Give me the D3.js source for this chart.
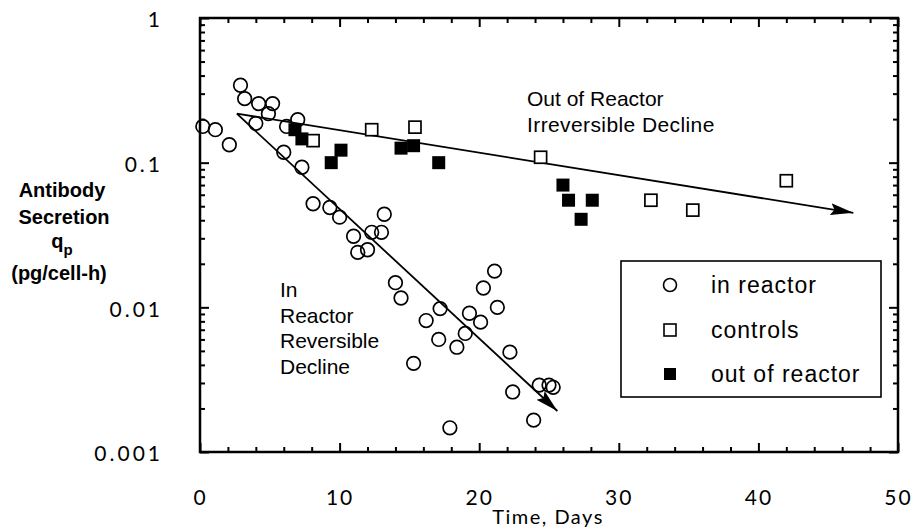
<!DOCTYPE html>
<html>
<head>
<meta charset="utf-8">
<script src="https://cdn.jsdelivr.net/npm/d3@7/dist/d3.min.js"></script>
<style>
  html, body { margin: 0; padding: 0; background: #fff; }
  svg { display: block; }
</style>
</head>
<body>
<svg id="chart" width="919" height="529"></svg>
<script>
// ---------------- data ----------------
const inReactorDay = [0.2, 1.1, 2.1, 2.9, 3.2, 4.2, 5.2, 4.9, 4.0, 6.2, 7.0, 6.0, 7.3, 8.1, 9.3, 10.0, 13.2, 11.0, 12.3, 13.0, 11.3, 12.0, 14.0, 14.4, 21.1, 20.3, 21.3, 17.2, 19.3, 20.1, 16.2, 19.0, 17.1, 18.4, 15.3, 22.2, 22.4, 24.3, 25.0, 25.3, 23.9, 17.9];
const inReactorQp  = [0.178, 0.169, 0.133, 0.343, 0.277, 0.256, 0.256, 0.218, 0.187, 0.178, 0.198, 0.118, 0.093, 0.052, 0.049, 0.042, 0.044, 0.031, 0.033, 0.033, 0.024, 0.025, 0.0148, 0.0116, 0.0178, 0.0136, 0.0100, 0.0098, 0.0091, 0.0079, 0.0081, 0.0066, 0.0060, 0.0053, 0.0041, 0.0049, 0.0026, 0.0029, 0.0029, 0.0028, 0.00166, 0.00147];

const controlsDay = [8.1, 12.3, 15.4, 24.4, 32.3, 35.3, 42.0];
const controlsQp  = [0.142, 0.169, 0.176, 0.109, 0.055, 0.047, 0.075];

const outReactorDay = [6.8, 7.3, 9.4, 10.1, 14.4, 15.3, 17.1, 26.0, 26.4, 28.1, 27.3];
const outReactorQp  = [0.169, 0.146, 0.100, 0.122, 0.126, 0.131, 0.100, 0.070, 0.055, 0.055, 0.0406];

// trend arrows [day, qp]
const irreversibleLine = [[2.64, 0.218], [46.8, 0.045]];
const reversibleLine   = [[2.64, 0.218], [25.6, 0.00192]];

const xMajorTicks = [0, 10, 20, 30, 40, 50];
const xMinorTicks = [2, 4, 6, 8, 12, 14, 16, 18, 22, 24, 26, 28, 32, 34, 36, 38, 42, 44, 46, 48];
const yMajorTicks = [1, 0.1, 0.01, 0.001];
const yTickLabels = ["1", "0.1", "0.01", "0.001"];
const yMinorTicks = [];
[0.001, 0.01, 0.1].forEach(b => { for (let m = 2; m <= 9; m++) yMinorTicks.push(+(b * m).toPrecision(3)); });

const legendLabels = ["in reactor", "controls", "out of reactor"];

// ---------------- layout ----------------
const svg = d3.select("#chart");
const L = 200, R = 898, T = 18, B = 452;
const x = d3.scaleLinear().domain([0, 50]).range([L, R]);
const y = d3.scaleLog().domain([0.001, 1]).range([B, T]);

const tickFont = "Lato, 'DejaVu Sans', sans-serif";

// bottom axis with labels
const gB = svg.append("g").attr("transform", `translate(0,${B})`)
  .call(d3.axisBottom(x).tickValues(xMajorTicks).tickSize(-9).tickPadding(38).tickFormat(d3.format("d")));
gB.selectAll("text").attr("font-size", 21).attr("fill", "#000").attr("letter-spacing", 2)
  .style("font-family", tickFont).style("font-weight", 400);
svg.append("g").attr("transform", `translate(0,${B})`)
  .call(d3.axisBottom(x).tickValues(xMinorTicks).tickSize(-5).tickFormat(""));

// top axis ticks
svg.append("g").attr("transform", `translate(0,${T})`)
  .call(d3.axisTop(x).tickValues(xMajorTicks).tickSize(-9).tickFormat(""));
svg.append("g").attr("transform", `translate(0,${T})`)
  .call(d3.axisTop(x).tickValues(xMinorTicks).tickSize(-5).tickFormat(""));

// left axis with labels
const gL = svg.append("g").attr("transform", `translate(${L},0)`)
  .call(d3.axisLeft(y).tickValues(yMajorTicks).tickSize(-9).tickPadding(37)
    .tickFormat((d, i) => yTickLabels[i]));
gL.selectAll("text").attr("font-size", 21).attr("fill", "#000").attr("letter-spacing", 3).attr("dy", "0.42em")
  .style("font-family", tickFont).style("font-weight", 400);
svg.append("g").attr("transform", `translate(${L},0)`)
  .call(d3.axisLeft(y).tickValues(yMinorTicks).tickSize(-5).tickFormat(""));

// right axis ticks
svg.append("g").attr("transform", `translate(${R},0)`)
  .call(d3.axisRight(y).tickValues(yMajorTicks).tickSize(-9).tickFormat(""));
svg.append("g").attr("transform", `translate(${R},0)`)
  .call(d3.axisRight(y).tickValues(yMinorTicks).tickSize(-5).tickFormat(""));

svg.selectAll(".domain").remove();
svg.selectAll(".tick line").attr("stroke", "#000").attr("stroke-width", 2);

// frame
svg.append("rect").attr("x", L).attr("y", T).attr("width", R - L).attr("height", B - T)
  .attr("fill", "none").attr("stroke", "#000").attr("stroke-width", 2.5);

// axis titles
svg.append("text").attr("x", 548).attr("y", 524).attr("text-anchor", "middle")
  .attr("font-size", 20).attr("letter-spacing", 1.5).style("font-family", tickFont).style("font-weight", 400)
  .attr("fill", "#000").text("Time, Days");

const yt = svg.append("g").attr("font-family", "'Liberation Sans', Arial, sans-serif")
  .attr("font-weight", "bold").attr("font-size", 20).attr("text-anchor", "middle").attr("fill", "#000");
yt.append("text").attr("x", 62).attr("y", 197).text("Antibody");
yt.append("text").attr("x", 64).attr("y", 224).text("Secretion");
const qp = yt.append("text").attr("x", 62).attr("y", 248);
qp.append("tspan").text("q");
qp.append("tspan").attr("font-size", 15).attr("dy", 7).text("p");
yt.append("text").attr("x", 59).attr("y", 280).text("(pg/cell-h)");

// arrow marker
const defs = svg.append("defs");
defs.append("marker").attr("id", "arrow").attr("markerUnits", "userSpaceOnUse")
  .attr("viewBox", "0 -7 24 14").attr("refX", 23).attr("refY", 0)
  .attr("markerWidth", 24).attr("markerHeight", 14).attr("orient", "auto")
  .append("path").attr("d", "M0,-6 L23,0 L0,6 L4,0 Z").attr("fill", "#000");

const line = d3.line().x(d => x(d[0])).y(d => y(d[1]));
[irreversibleLine, reversibleLine].forEach(ln => {
  svg.append("path").attr("d", line(ln)).attr("fill", "none").attr("stroke", "#000")
    .attr("stroke-width", 1.8).attr("marker-end", "url(#arrow)");
});

// points
const inR = d3.zip(inReactorDay, inReactorQp);
svg.append("g").selectAll("circle").data(inR).join("circle")
  .attr("cx", d => x(d[0])).attr("cy", d => y(d[1])).attr("r", 6.8)
  .attr("fill", "none").attr("stroke", "#000").attr("stroke-width", 1.7);

const ctl = d3.zip(controlsDay, controlsQp);
svg.append("g").selectAll("rect").data(ctl).join("rect")
  .attr("x", d => x(d[0]) - 6).attr("y", d => y(d[1]) - 6).attr("width", 12).attr("height", 12)
  .attr("fill", "#fff").attr("stroke", "#000").attr("stroke-width", 1.7);

const outR = d3.zip(outReactorDay, outReactorQp);
svg.append("g").selectAll("rect").data(outR).join("rect")
  .attr("x", d => x(d[0]) - 6.5).attr("y", d => y(d[1]) - 6.5).attr("width", 13).attr("height", 13)
  .attr("fill", "#000");

// annotations
const ann = svg.append("g").attr("font-family", "'Liberation Sans', Arial, sans-serif")
  .attr("font-size", 21).attr("fill", "#000");
ann.append("text").attr("x", 527).attr("y", 106).text("Out of Reactor");
ann.append("text").attr("x", 527).attr("y", 132).attr("letter-spacing", 0.4).text("Irreversible Decline");
["In", "Reactor", "Reversible", "Decline"].forEach((t, i) => {
  ann.append("text").attr("x", 280).attr("y", 297 + i * 25.5).text(t);
});

// legend
const lg = svg.append("g");
lg.append("rect").attr("x", 621).attr("y", 261).attr("width", 260).attr("height", 136)
  .attr("fill", "#fff").attr("stroke", "#000").attr("stroke-width", 1.6);
const rowsY = [285, 330, 374];
lg.append("circle").attr("cx", 670).attr("cy", rowsY[0]).attr("r", 6.5)
  .attr("fill", "none").attr("stroke", "#000").attr("stroke-width", 1.6);
lg.append("rect").attr("x", 664).attr("y", rowsY[1] - 6).attr("width", 12).attr("height", 12)
  .attr("fill", "#fff").attr("stroke", "#000").attr("stroke-width", 1.6);
lg.append("rect").attr("x", 664).attr("y", rowsY[2] - 6).attr("width", 12).attr("height", 12)
  .attr("fill", "#000");
lg.selectAll("text").data(legendLabels).join("text")
  .attr("x", 711).attr("y", (d, i) => rowsY[i] + 8)
  .attr("font-family", "'Liberation Sans', Arial, sans-serif").attr("font-size", 23)
  .attr("letter-spacing", 1).attr("fill", "#000").text(d => d);
</script>
</body>
</html>
